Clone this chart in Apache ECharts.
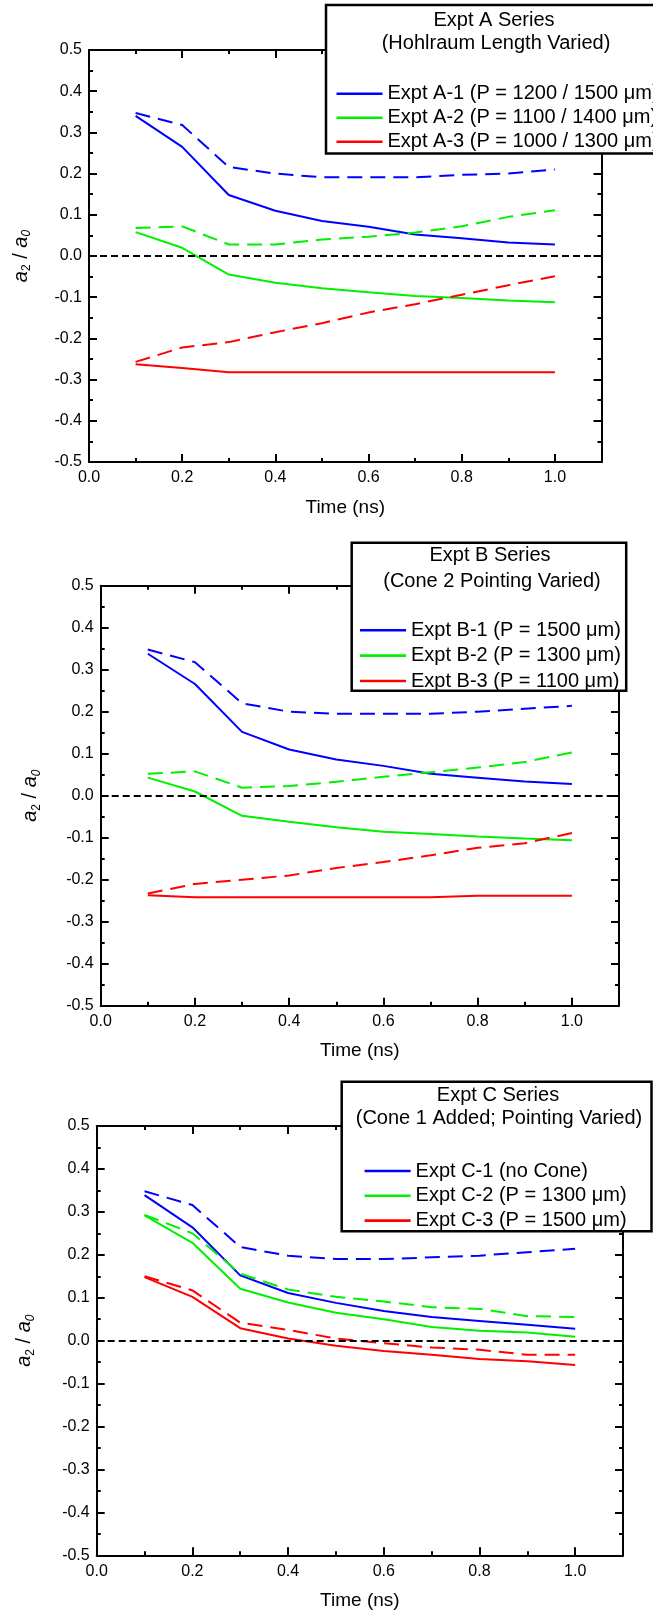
<!DOCTYPE html>
<html>
<head>
<meta charset="utf-8">
<script src="https://cdn.jsdelivr.net/npm/echarts@6/dist/echarts.min.js"></script>
<style>
html,body{margin:0;padding:0;background:#fff;}
#c{width:653px;height:1618px;}
</style>
</head>
<body>
<div id="c"></div>
<script>
// ---------------- data ----------------
const times = [0.1, 0.2, 0.3, 0.4, 0.5, 0.6, 0.7, 0.8, 0.9, 1.0];

const xTickLabels = ['0.0', '0.2', '0.4', '0.6', '0.8', '1.0'];
const yTickLabels = ['-0.5', '-0.4', '-0.3', '-0.2', '-0.1', '0.0', '0.1', '0.2', '0.3', '0.4', '0.5'];

// Panel A – Expt A Series
const titleA = ['Expt A Series', '(Hohlraum Length Varied)'];
const namesA = ['Expt A-1 (P = 1200 / 1500 \u03bcm)', 'Expt A-2 (P = 1100 / 1400 \u03bcm)', 'Expt A-3 (P = 1000 / 1300 \u03bcm)'];
const A1  = [0.340, 0.265, 0.148, 0.110, 0.085, 0.071, 0.052, 0.043, 0.033, 0.028];
const A1d = [0.347, 0.318, 0.216, 0.200, 0.191, 0.191, 0.191, 0.197, 0.200, 0.210];
const A2  = [0.058, 0.020, -0.045, -0.065, -0.078, -0.088, -0.097, -0.102, -0.108, -0.112];
const A2d = [0.068, 0.072, 0.028, 0.028, 0.040, 0.047, 0.057, 0.072, 0.095, 0.111];
const A3  = [-0.263, -0.272, -0.282, -0.282, -0.282, -0.282, -0.282, -0.282, -0.282, -0.282];
const A3d = [-0.257, -0.222, -0.209, -0.185, -0.163, -0.137, -0.117, -0.094, -0.071, -0.049];

// Panel B – Expt B Series
const titleB = ['Expt B Series', '(Cone 2 Pointing Varied)'];
const namesB = ['Expt B-1 (P = 1500 \u03bcm)', 'Expt B-2 (P = 1300 \u03bcm)', 'Expt B-3 (P = 1100 \u03bcm)'];
const B1  = [0.338, 0.266, 0.152, 0.110, 0.086, 0.071, 0.052, 0.043, 0.034, 0.028];
const B1d = [0.348, 0.318, 0.220, 0.200, 0.195, 0.195, 0.195, 0.200, 0.207, 0.214];
const B2  = [0.043, 0.010, -0.048, -0.062, -0.075, -0.086, -0.091, -0.097, -0.102, -0.106];
const B2d = [0.052, 0.058, 0.019, 0.023, 0.033, 0.045, 0.056, 0.067, 0.080, 0.103];
const B3  = [-0.237, -0.242, -0.242, -0.242, -0.242, -0.242, -0.242, -0.238, -0.238, -0.238];
const B3d = [-0.233, -0.210, -0.200, -0.190, -0.172, -0.158, -0.142, -0.124, -0.113, -0.089];

// Panel C – Expt C Series
const titleC = ['Expt C Series', '(Cone 1 Added; Pointing Varied)'];
const namesC = ['Expt C-1 (no Cone)', 'Expt C-2 (P = 1300 \u03bcm)', 'Expt C-3 (P = 1500 \u03bcm)'];
const C1  = [0.339, 0.264, 0.152, 0.111, 0.088, 0.069, 0.055, 0.046, 0.037, 0.028];
const C1d = [0.348, 0.316, 0.218, 0.198, 0.190, 0.190, 0.194, 0.198, 0.206, 0.214];
const C2  = [0.292, 0.228, 0.121, 0.089, 0.065, 0.050, 0.032, 0.023, 0.019, 0.009];
const C2d = [0.293, 0.250, 0.156, 0.119, 0.102, 0.091, 0.078, 0.074, 0.057, 0.055];
const C3  = [0.148, 0.102, 0.029, 0.005, -0.012, -0.024, -0.033, -0.043, -0.048, -0.057];
const C3d = [0.150, 0.117, 0.042, 0.025, 0.005, -0.006, -0.016, -0.021, -0.033, -0.033];

const xAxisTitle = 'Time (ns)';
// ---------------- layout / style ----------------
const FONT = '"Liberation Sans", Arial, Helvetica, sans-serif';
const COLORS = ['#0000ff', '#00f000', '#ff0000'];
const DASH = [15, 8];

const panels = [
  { title: titleA, names: namesA, solid: [A1, A2, A3], dashed: [A1d, A2d, A3d],
    grid: { left: 89, top: 50, width: 512.5, height: 412 }, yNameGap: 56,
    box: { x: 326, y: 5, w: 340, h: 148.5 }, t1: [494, 20], t2: [496, 43.5],
    leg: { left: 336.5, top: 81.7, lh: 24 } },
  { title: titleB, names: namesB, solid: [B1, B2, B3], dashed: [B1d, B2d, B3d],
    grid: { left: 100.7, top: 585.7, width: 518.3, height: 420 }, yNameGap: 58,
    box: { x: 351.7, y: 542.7, w: 274.5, h: 148 }, t1: [490, 555.5], t2: [492, 581.3],
    leg: { left: 360, top: 617.5, lh: 25.4 } },
  { title: titleC, names: namesC, solid: [C1, C2, C3], dashed: [C1d, C2d, C3d],
    grid: { left: 96.7, top: 1126, width: 526.3, height: 429.3 }, yNameGap: 60,
    box: { x: 341.7, y: 1081.7, w: 309.8, h: 149.5 }, t1: [498, 1095], t2: [499, 1118.8],
    leg: { left: 364.6, top: 1158.6, lh: 24.8 } }
];

const black = '#000';
const lineSt = { color: black, width: 2 };

const grids = [], xAxes = [], yAxes = [], series = [], legends = [], graphics = [];

panels.forEach((p, pi) => {
  grids.push(Object.assign({ containLabel: false, outerBoundsMode: 'none' }, p.grid));
  const xi = xAxes.length, yi = yAxes.length;
  const xBase = (pos, interval, len, labels, showLine) => ({
    gridIndex: pi, type: 'value', position: pos, min: 0, max: 1.1, interval: interval,
    axisLine: { show: showLine, onZero: false, lineStyle: lineSt },
    axisTick: { show: true, inside: true, length: len, lineStyle: lineSt },
    splitLine: { show: false },
    axisLabel: labels ? {
      show: true, margin: 8, fontSize: 16, color: black, fontFamily: FONT,
      formatter: v => { const i = Math.round(v / 0.2); return (Math.abs(v - i * 0.2) < 1e-6 && i < xTickLabels.length) ? xTickLabels[i] : ''; }
    } : { show: false }
  });
  const bm = xBase('bottom', 0.2, 8, true, true);
  bm.name = xAxisTitle; bm.nameLocation = 'middle'; bm.nameGap = 36;
  bm.nameTextStyle = { fontSize: 19, color: black, fontFamily: FONT };
  xAxes.push(bm, xBase('bottom', 0.1, 4, false, false), xBase('top', 0.2, 8, false, true), xBase('top', 0.1, 4, false, false));

  const yBase = (pos, labels) => ({
    gridIndex: pi, type: 'value', position: pos, min: -0.5, max: 0.5, interval: 0.1,
    axisLine: { show: true, onZero: false, lineStyle: lineSt },
    axisTick: { show: true, inside: true, length: 8, lineStyle: lineSt },
    minorTick: { show: true, splitNumber: 2, length: 4, lineStyle: lineSt },
    splitLine: { show: false }, minorSplitLine: { show: false },
    axisLabel: labels ? {
      show: true, margin: 7, fontSize: 16, color: black, fontFamily: FONT,
      formatter: v => yTickLabels[Math.round((v + 0.5) / 0.1)]
    } : { show: false }
  });
  const yl = yBase('left', true);
  yl.name = '{i|a}{s|2}{n| / }{i|a}{t|0}';
  yl.nameLocation = 'middle'; yl.nameGap = p.yNameGap;
  yl.nameTextStyle = {
    color: black, fontFamily: FONT, fontSize: 20,
    rich: {
      i: { fontStyle: 'italic', fontSize: 20, lineHeight: 24, fontFamily: FONT, color: black },
      n: { fontSize: 20, lineHeight: 24, fontFamily: FONT, color: black },
      s: { fontSize: 12, lineHeight: 24, verticalAlign: 'bottom', fontFamily: FONT, color: black },
      t: { fontSize: 12, lineHeight: 24, verticalAlign: 'bottom', fontStyle: 'italic', fontFamily: FONT, color: black }
    }
  };
  yAxes.push(yl, yBase('right', false));

  for (let k = 0; k < 3; k++) {
    series.push({
      type: 'line', name: p.names[k], xAxisIndex: xi, yAxisIndex: yi,
      data: times.map((t, i) => [t, p.solid[k][i]]),
      symbol: 'none', showSymbol: false, smooth: false, z: 3,
      lineStyle: { color: COLORS[k], width: 2, type: 'solid' },
      itemStyle: { color: COLORS[k] },
      markLine: k === 0 ? {
        silent: true, symbol: ['none', 'none'], label: { show: false },
        lineStyle: { color: black, width: 2, type: [7, 4] },
        data: [{ yAxis: 0 }]
      } : undefined
    });
    series.push({
      type: 'line', name: p.names[k] + ' (dashed)', xAxisIndex: xi, yAxisIndex: yi,
      data: times.map((t, i) => [t, p.dashed[k][i]]),
      symbol: 'none', showSymbol: false, smooth: false, z: 3,
      lineStyle: { color: COLORS[k], width: 2, type: DASH },
      itemStyle: { color: COLORS[k] }
    });
  }

  legends.push({
    data: p.names, orient: 'vertical', left: p.leg.left, top: p.leg.top,
    icon: 'rect', itemWidth: 46, itemHeight: 2.6, itemGap: 0, padding: 0, selectedMode: false,
    z: 120, zlevel: 0,
    textStyle: { fontSize: 20, lineHeight: p.leg.lh, color: black, fontFamily: FONT }
  });

  graphics.push({
    type: 'rect', z: 100, shape: { x: p.box.x, y: p.box.y, width: p.box.w, height: p.box.h },
    style: { fill: '#fff', stroke: black, lineWidth: 2.5 }
  });
  graphics.push({
    type: 'text', z: 101, x: p.t1[0], y: p.t1[1],
    style: { text: p.title[0], fill: black, font: '20px ' + FONT, align: 'center', verticalAlign: 'middle' }
  });
  graphics.push({
    type: 'text', z: 101, x: p.t2[0], y: p.t2[1],
    style: { text: p.title[1], fill: black, font: '20px ' + FONT, align: 'center', verticalAlign: 'middle' }
  });
});

const chart = echarts.init(document.getElementById('c'), null, { renderer: 'canvas', width: 653, height: 1618 });
chart.setOption({
  backgroundColor: '#fff',
  animation: false,
  textStyle: { fontFamily: FONT },
  grid: grids,
  xAxis: xAxes,
  yAxis: yAxes,
  series: series,
  legend: legends,
  graphic: { elements: graphics }
});
</script>
</body>
</html>
